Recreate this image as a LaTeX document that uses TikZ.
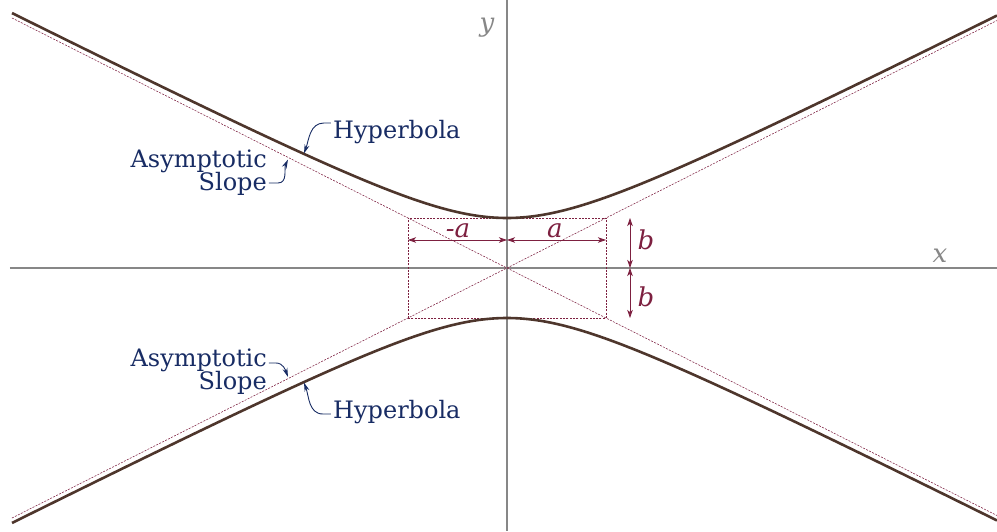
\documentclass[tikz,border=0pt]{standalone}
\usepackage{fontspec}
\setmainfont{DejaVu Serif}
\usetikzlibrary{arrows.meta}
\definecolor{hypBrown}{RGB}{78,54,44}
\definecolor{asyMaroon}{RGB}{125,32,64}
\definecolor{noteNavy}{RGB}{24,44,100}
\definecolor{axisGray}{RGB}{135,135,135}
\def\ha{99}
\def\hb{50}

\begin{document}
\begin{tikzpicture}[x=1pt,y=1pt,font=\fontsize{24}{22}\selectfont,
 axis/.style={axisGray,line width=1.2pt},
 hyp/.style={hypBrown,line width=2.6pt},
 asy/.style={asyMaroon,line width=.55pt,dash pattern=on 2pt off 1.3pt},
 dim/.style={{Stealth[length=8pt,width=5.5pt,inset=2pt]}-{Stealth[length=8pt,width=5.5pt,inset=2pt]},asyMaroon,line width=.8pt},
 axlab/.style={text=axisGray,font=\fontsize{26}{26}\selectfont\itshape,inner sep=0pt},
 dimlab/.style={text=asyMaroon,font=\fontsize{26}{26}\selectfont\itshape,inner sep=0pt},
 note/.style={text=noteNavy,inner sep=0pt},
 lead/.style={-{Stealth[length=9pt,width=5pt]},noteNavy,line width=.9pt}]
\path[use as bounding box] (-507,-263) rectangle (490,268);
\coordinate (xl) at (-497,0); \coordinate (xr) at (490,0);
\coordinate (yt) at (0,268); \coordinate (yb) at (0,-263);
\draw[axis] (xl) -- (xr);
\draw[axis] (yt) -- (yb);
\node[axlab] (ylab) at (-20,240) {y};
\node[axlab] (xlab) at (433,12) {x};
\coordinate (bl) at (-\ha,-\hb); \coordinate (tr) at (\ha,\hb);
\draw[asy] (bl) rectangle (tr);
\draw[asy] (-495,-250) -- (490,247.5);
\draw[asy] (-495,250) -- (490,-247.5);
\draw[hyp] plot[domain=-495:490,samples=140,smooth] (\x,{\hb*sqrt(1+(\x/\ha)^2)});
\draw[hyp] plot[domain=-495:490,samples=140,smooth] (\x,{-\hb*sqrt(1+(\x/\ha)^2)});
\coordinate (al) at (-\ha,28); \coordinate (ac) at (0,28); \coordinate (ar) at (\ha,28);
\draw[dim] (al) -- (ac);
\draw[dim] (ac) -- (ar);
\node[dimlab] (malab) at (-49,37) {-a};
\node[dimlab] (alab) at (48,37) {a};
\coordinate (bt) at (123,\hb); \coordinate (bc) at (123,0); \coordinate (bb) at (123,-\hb);
\draw[dim] (bt) -- (bc);
\draw[dim] (bc) -- (bb);
\node[dimlab] (btlab) at (139,28) {b};
\node[dimlab] (bblab) at (139,-29) {b};
\node[note,anchor=base west] (hypT) at (-174,130) {Hyperbola};
\node[note,anchor=base east] (asyT) at (-240,101) {Asymptotic};
\node[note,anchor=base east] (slopeT) at (-240,78) {Slope};
\node[note,anchor=base east] (asyB) at (-240,-98) {Asymptotic};
\node[note,anchor=base east] (slopeB) at (-240,-121) {Slope};
\node[note,anchor=base west] (hypB) at (-174,-150) {Hyperbola};
\coordinate (hypTtip) at (-203,114.5);
\coordinate (asyTtip) at (-219,108.5);
\coordinate (asyBtip) at (-219,-109);
\coordinate (hypBtip) at (-203,-114.5);
\draw[lead] ([shift={(-2,15)}]hypT.base west) -- ++(-7,0) to[out=180,in=70] (hypTtip);
\draw[lead] ([shift={(2,7)}]slopeT.base east) -- ++(9,0) to[out=0,in=-115] (asyTtip);
\draw[lead] ([shift={(2,3)}]asyB.base east) -- ++(7,0) to[out=0,in=110] (asyBtip);
\draw[lead] ([shift={(-2,4)}]hypB.base west) -- ++(-8,0) to[out=180,in=-70] (hypBtip);
\end{tikzpicture}
\end{document}
